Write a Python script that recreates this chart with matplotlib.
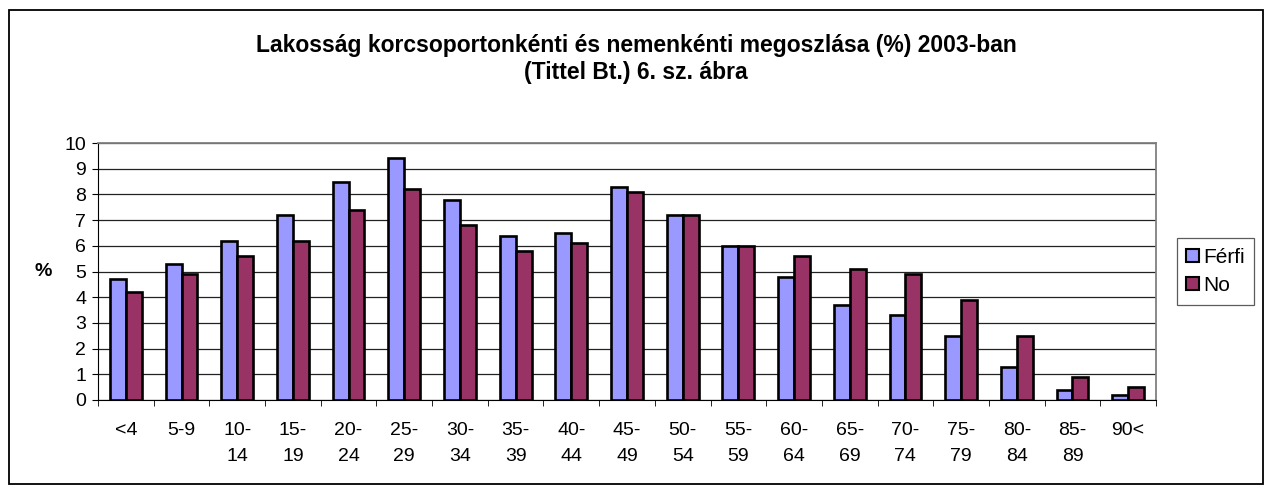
import numpy as np
import matplotlib.pyplot as plt
from matplotlib.patches import Rectangle

# data
korcsoport = ['<4', '5-9', '10-\n14', '15-\n19', '20-\n24', '25-\n29', '30-\n34',
              '35-\n39', '40-\n44', '45-\n49', '50-\n54', '55-\n59', '60-\n64',
              '65-\n69', '70-\n74', '75-\n79', '80-\n84', '85-\n89', '90<']
ferfi = [4.7, 5.3, 6.2, 7.2, 8.5, 9.4, 7.8, 6.4, 6.5, 8.3, 7.2, 6.0, 4.8,
         3.7, 3.3, 2.5, 1.3, 0.4, 0.2]
no = [4.2, 4.9, 5.6, 6.2, 7.4, 8.2, 6.8, 5.8, 6.1, 8.1, 7.2, 6.0, 5.6,
      5.1, 4.9, 3.9, 2.5, 0.9, 0.5]

plt.rcParams['font.family'] = ['Liberation Sans', 'DejaVu Sans']

W, H = 1265, 488
fig = plt.figure(figsize=(W / 100, H / 100), dpi=100)
# outer chart border
fig.patches.append(Rectangle((9 / W, 1 - 484 / H), 1254 / W, 474 / H,
                             transform=fig.transFigure, fill=False,
                             edgecolor='black', linewidth=1.3))

ax = fig.add_axes([98 / W, 1 - 400 / H, 1058 / W, 257 / H])

x = np.arange(len(korcsoport))
w = 1 / 3.5
ax.bar(x - w / 2, ferfi, w, color='#9999ff', edgecolor='black', linewidth=1.9,
       label='Férfi', zorder=3)
ax.bar(x + w / 2, no, w, color='#993366', edgecolor='black', linewidth=1.9,
       label='No', zorder=3)

ax.set_xlim(-0.5, len(korcsoport) - 0.5)
ax.set_ylim(0, 10)
ax.set_yticks(range(0, 11))
ax.yaxis.grid(True, color='#222222', linewidth=0.9, zorder=0)
ax.set_xticks(x)
ax.set_xticklabels(korcsoport, fontsize=14, linespacing=1.65)
ax.set_xticks(np.arange(-0.5, len(korcsoport)), minor=True)
ax.tick_params(axis='x', which='major', length=0, pad=16)
ax.tick_params(axis='x', which='minor', length=4.5, color='black')
ax.tick_params(axis='y', labelsize=14, length=4.5, pad=4, color='black')
for s in ['top', 'right']:
    ax.spines[s].set_color('gray')
    ax.spines[s].set_linewidth(1.3)
ax.spines['left'].set_color('black')
ax.spines['bottom'].set_color('black')
ax.set_ylabel('%', fontsize=14, fontweight='bold', rotation=0, labelpad=15, va='center')

fig.text(636 / W, 1 - 59 / H,
         'Lakosság korcsoportonkénti és nemenkénti megoszlása (%) 2003-ban\n(Tittel Bt.) 6. sz. ábra',
         ha='center', va='center', fontsize=16.5, fontweight='bold', linespacing=1.2)

leg = ax.legend(loc='center left', bbox_to_anchor=(1177 / 1058 - 98 / 1058, 0.5), fontsize=15,
                frameon=True, fancybox=False, edgecolor='#333333', handlelength=0.6,
                handleheight=0.6, handletextpad=0.2, borderaxespad=0, labelspacing=0.45,
                borderpad=0.45)
leg.get_frame().set_linewidth(0.9)
for h in leg.legend_handles:
    h.set_linewidth(1.5)

fig.savefig('out.png', dpi=100)
